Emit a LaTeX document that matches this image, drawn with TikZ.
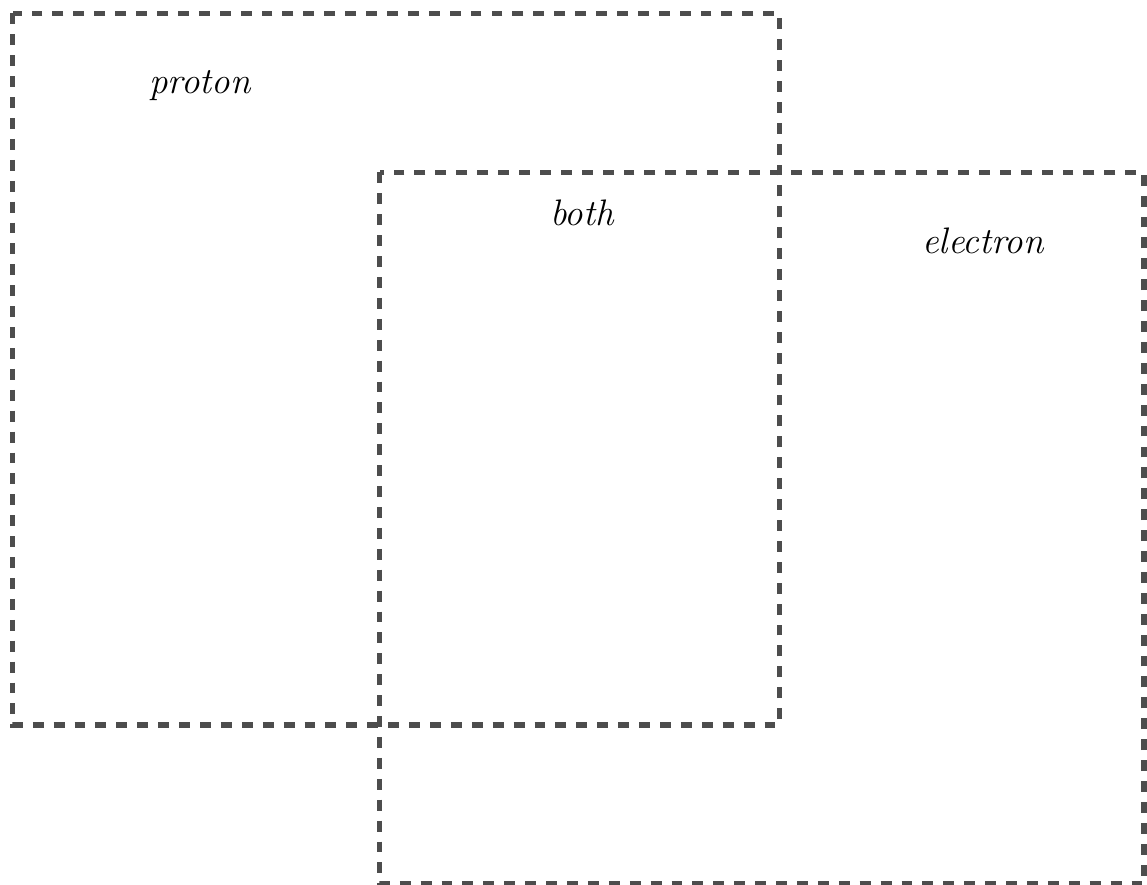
\documentclass[tikz,border=0pt]{standalone}
\usepackage{tikz}
\usetikzlibrary{positioning}

\definecolor{boxgray}{RGB}{77,77,77}

\begin{document}
\begin{tikzpicture}[x=0.02cm, y=-0.02cm,
  region/.style={draw=boxgray, line width=2.9pt, dash pattern=on 6.2pt off 5.7pt},
  tag/.style={font=\fontsize{21}{24}\selectfont\itshape, inner sep=0pt}]

  \useasboundingbox (0,0) rectangle (1147,885);

  % Define corners of the two regions
  \coordinate (pTL) at (12.5, 13.5);
  \coordinate (pBR) at (779.5, 725);
  \coordinate (eTL) at (379.5, 172.5);
  \coordinate (eBR) at (1144, 884);

  % Draw the regions
  \draw[region] (pTL) rectangle (pBR);
  \draw[region] (eTL) rectangle (eBR);

  % Labels
  \node[tag] (proton) at (200, 86) {proton};
  \node[tag] (both) at (582, 213) {both};
  \node[tag] (electron) at (983, 241) {electron};
\end{tikzpicture}
\end{document}
